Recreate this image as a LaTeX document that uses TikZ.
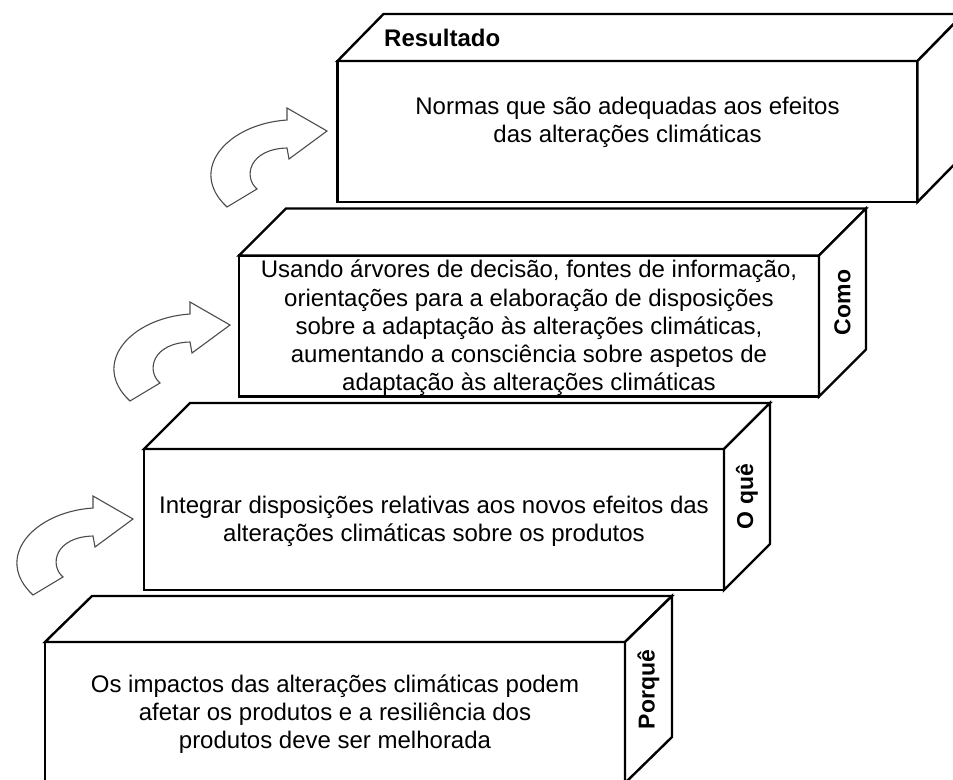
\documentclass[tikz,border=0pt]{standalone}
\usepackage{fontspec}
\setmainfont{Liberation Sans}
\begin{document}
\begin{tikzpicture}[x=1pt,y=-1pt,
  boxline/.style={draw=black,line width=2.4pt,line join=miter,fill=white},
  frontface/.style={boxline,minimum width=580pt,minimum height=141pt,inner sep=0pt,outer sep=0pt},
  bodytext/.style={align=center,inner sep=0pt,font=\fontsize{24}{28.2}\selectfont},
  sidelabel/.style={font=\fontsize{23}{26}\selectfont\bfseries,rotate=90,inner sep=0pt},
  toplabel/.style={font=\fontsize{24}{27}\selectfont\bfseries,anchor=west,inner sep=0pt},
  arrowline/.style={draw=black!70,line width=1.1pt,fill=white,line join=miter},
  curvarrow/.pic={\draw[arrowline] (0,0) -- (-40,-23) -- (-40,-11)
      .. controls (-100,-7) and (-140,39) .. (-100,76) -- (-70,58)
      .. controls (-84,46) and (-78,18) .. (-40,17) -- (-38,28) -- cycle;}
]
\useasboundingbox (0,0) rectangle (953,779);
\clip (0,0) rectangle (953,779);

% ---- Resultado ----
\node[frontface] (res) at (627.5,131.5) {};
\draw[boxline] (res.north west) -- ++(46,-47) -- ([shift={(46,-47)}]res.north east) -- (res.north east) -- cycle;
\draw[boxline] (res.north east) -- ++(46,-47) -- ([shift={(46,-47)}]res.south east) -- (res.south east) -- cycle;
\node[bodytext] (restext) at (627.5,122) {Normas que são adequadas aos efeitos\\das alterações climáticas};
\node[toplabel] (reslabel) at (384,38) {Resultado};

% ---- Como ----
\node[frontface] (como) at (529,326) {};
\draw[boxline] (como.north west) -- ++(47,-47) -- ([shift={(47,-47)}]como.north east) -- (como.north east) -- cycle;
\draw[boxline] (como.north east) -- ++(47,-47) -- ([shift={(47,-47)}]como.south east) -- (como.south east) -- cycle;
\node[bodytext] (comotext) at (529,328) {Usando árvores de decisão, fontes de informação,\\orientações para a elaboração de disposições\\sobre a adaptação às alterações climáticas,\\aumentando a consciência sobre aspetos de\\adaptação às alterações climáticas};
\node[sidelabel] (comolabel) at ([shift={(23.5,-23.5)}]como.east) {Como};

% ---- O quê ----
\node[frontface] (oque) at (434,519.5) {};
\draw[boxline] (oque.north west) -- ++(46,-46) -- ([shift={(46,-46)}]oque.north east) -- (oque.north east) -- cycle;
\draw[boxline] (oque.north east) -- ++(46,-46) -- ([shift={(46,-46)}]oque.south east) -- (oque.south east) -- cycle;
\node[bodytext] (oquetext) at (434,521) {Integrar disposições relativas aos novos efeitos das\\alterações climáticas sobre os produtos};
\node[sidelabel] (oquelabel) at ([shift={(23,-23)}]oque.east) {O quê};

% ---- Porquê ----
\node[frontface] (porque) at (335,712.5) {};
\draw[boxline] (porque.north west) -- ++(47,-46) -- ([shift={(47,-46)}]porque.north east) -- (porque.north east) -- cycle;
\draw[boxline] (porque.north east) -- ++(47,-46) -- ([shift={(47,-46)}]porque.south east) -- (porque.south east) -- cycle;
\node[bodytext] (porquetext) at (335,714) {Os impactos das alterações climáticas podem\\afetar os produtos e a resiliência dos\\produtos deve ser melhorada};
\node[sidelabel] (porquelabel) at ([shift={(23.5,-23)}]porque.east) {Porquê};

% ---- curved arrows ----
\pic (arrA) at (327,131) {curvarrow};
\pic (arrB) at (230,325) {curvarrow};
\pic (arrC) at (133,519) {curvarrow};
\end{tikzpicture}
\end{document}
